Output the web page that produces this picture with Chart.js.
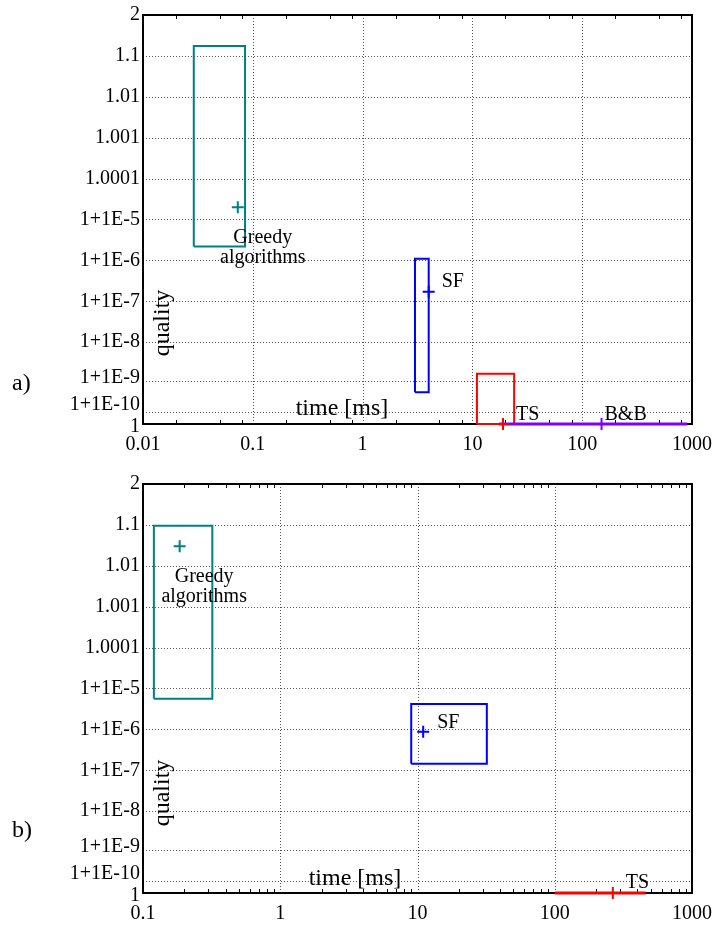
<!DOCTYPE html>
<html>
<head>
<meta charset="utf-8">
<script src="https://cdn.jsdelivr.net/npm/chart.js@4/dist/chart.umd.min.js"></script>
<style>
  html, body { margin: 0; padding: 0; background: #fff; overflow: hidden; }
  #chartA { position: absolute; left: 0; top: 0; }
  #chartB { position: absolute; left: 0; top: 469px; }
</style>
</head>
<body>
<canvas id="chartA" width="716" height="463"></canvas>
<canvas id="chartB" width="716" height="457"></canvas>
<script>
// Quality axis: tick labels and the quality-1 gap each one stands for
const qualityTickLabels = ['1', '1+1E-10', '1+1E-9', '1+1E-8', '1+1E-7', '1+1E-6', '1+1E-5', '1.0001', '1.001', '1.01', '1.1', '2'];
const qualityTickGaps = [0, 1e-10, 1e-9, 1e-8, 1e-7, 1e-6, 1e-5, 1e-4, 1e-3, 1e-2, 1e-1, 1];

// Time axis decades [ms]
const timeTicksA = [0.01, 0.1, 1, 10, 100, 1000];
const timeTicksB = [0.1, 1, 10, 100, 1000];

// Panel a): time range, quality-1 range and mean of each method
const methodsA = [['Greedy', 'algorithms'], ['SF'], ['TS'], ['B&B']];
const timeMinA = [0.029, 3.0, 11, 17.5];
const timeMaxA = [0.085, 4.0, 24, 900];
const timeMeanA = [0.073, 4.0, 19, 150];
const gapMinA = [2.2e-6, 5e-10, 0, 0];
const gapMaxA = [0.175, 1.1e-6, 1.6e-9, 0];
const gapMeanA = [2e-5, 1.7e-7, 0, 0];

// Panel b)
const methodsB = [['Greedy', 'algorithms'], ['SF'], ['TS']];
const timeMinB = [0.12, 9, 100];
const timeMaxB = [0.32, 32, 460];
const timeMeanB = [0.185, 11, 265];
const gapMinB = [5.6e-6, 1.45e-7, 0];
const gapMaxB = [0.095, 4.2e-6, 0];
const gapMeanB = [0.03, 8.8e-7, 0];

// quality q is plotted as log10((q - 1) + 1e-10): 1 sits at -10, 2 at 0
const GAP_FLOOR = 1e-10;
const qPos = g => Math.log10(g + GAP_FLOOR);

const SERIF = "'Liberation Serif', 'Times New Roman', serif";
const COLORS = { 'Greedy': '#008080', 'SF': '#0000ff', 'TS': '#ff0000', 'B&B': '#8000ff' };

function decorPlugin(d) {
  return {
    id: 'decor',
    beforeDatasetsDraw(chart) {
      const { ctx, chartArea: a, scales: { x, y } } = chart;
      ctx.save();
      const seg = (x1, y1, x2, y2) => { ctx.beginPath(); ctx.moveTo(x1, y1); ctx.lineTo(x2, y2); ctx.stroke(); };

      // dotted grid
      ctx.strokeStyle = '#555';
      ctx.lineWidth = 1;
      ctx.setLineDash([1, 2]);
      qualityTickGaps.forEach(g => {
        if (g === 0 || g === 1) return;
        const py = Math.round(y.getPixelForValue(qPos(g))) + 0.5;
        seg(a.left, py, a.right, py);
      });
      d.timeTicks.slice(1, -1).forEach(t => {
        const px = Math.round(x.getPixelForValue(t)) + 0.5;
        seg(px, a.top, px, a.bottom);
      });
      ctx.setLineDash([]);

      // minor ticks on the time axis, bottom and top
      ctx.strokeStyle = '#000';
      for (let i = 0; i < d.timeTicks.length - 1; i++) {
        const dec = d.timeTicks[i];
        d.minor.forEach(m => {
          const px = Math.round(x.getPixelForValue(dec * m)) + 0.5;
          seg(px, a.bottom, px, a.bottom - 4);
          seg(px, a.top, px, a.top + 4);
        });
      }

      // frame
      ctx.lineWidth = 2;
      ctx.strokeRect(a.left, a.top, a.right - a.left, a.bottom - a.top);
      ctx.restore();
    },
    afterDraw(chart) {
      const { ctx, chartArea: a, scales: { x, y } } = chart;
      ctx.save();
      ctx.fillStyle = '#000';

      // quality tick labels
      ctx.font = '20px ' + SERIF;
      ctx.textAlign = 'right';
      ctx.textBaseline = 'middle';
      const nudge = [3, -7, -4];
      qualityTickLabels.forEach((lab, i) => {
        const py = y.getPixelForValue(qPos(qualityTickGaps[i])) + (nudge[i] || 0);
        ctx.fillText(lab, a.left - 3, py);
      });

      // method labels next to their mean markers
      ctx.textBaseline = 'alphabetic';
      d.methods.forEach((lines, i) => {
        const px = x.getPixelForValue(d.tMean[i]);
        const py = y.getPixelForValue(qPos(d.gMean[i]));
        const o = d.labelOffsets[i];
        ctx.textAlign = lines.length > 1 ? 'center' : 'left';
        lines.forEach((s, k) => ctx.fillText(s, px + o[0], py + o[1] + k * 20.5));
      });

      // axis titles inside the plot
      ctx.font = '24px ' + SERIF;
      ctx.textAlign = 'center';
      ctx.fillText('time [ms]', a.left + d.timeTitle[0], a.bottom - d.timeTitle[1]);
      ctx.save();
      ctx.translate(163, d.qualityTitleY);
      ctx.rotate(-Math.PI / 2);
      ctx.textBaseline = 'middle';
      ctx.fillText('quality', 0, 0);
      ctx.restore();

      // panel letter
      ctx.textAlign = 'left';
      ctx.textBaseline = 'alphabetic';
      ctx.fillText(d.letter, 12, d.letterY);
      ctx.restore();
    }
  };
}

function buildChart(id, d) {
  const datasets = [];
  d.methods.forEach((lines, i) => {
    const col = COLORS[lines[0]];
    const flat = d.gMin[i] === d.gMax[i];
    const corners = [
      [d.tMin[i], d.gMin[i]], [d.tMax[i], d.gMin[i]], [d.tMax[i], d.gMax[i]],
      [d.tMin[i], d.gMax[i]], [d.tMin[i], d.gMin[i]]
    ];
    datasets.push({
      label: lines.join(' ') + ' range',
      data: corners.map(([t, g]) => ({ x: t, y: qPos(g) })),
      showLine: true, fill: false, tension: 0,
      borderColor: col, backgroundColor: col,
      borderWidth: flat ? 3 : 2, borderJoinStyle: 'miter',
      pointRadius: 0, pointHoverRadius: 0,
      clip: false, order: 20 - i
    });
    datasets.push({
      label: lines.join(' ') + ' mean',
      data: [{ x: d.tMean[i], y: qPos(d.gMean[i]) }],
      showLine: false,
      pointStyle: 'cross', pointRadius: 6, pointHoverRadius: 6,
      borderColor: col, backgroundColor: col, borderWidth: 2,
      clip: false, order: 0
    });
  });

  return new Chart(document.getElementById(id), {
    type: 'scatter',
    data: { datasets },
    options: {
      responsive: false,
      animation: false,
      layout: { padding: { top: 15, right: 24, bottom: 0, left: 0 } },
      plugins: { legend: { display: false }, tooltip: { enabled: false } },
      events: [],
      scales: {
        x: {
          type: 'logarithmic',
          min: d.timeTicks[0],
          max: d.timeTicks[d.timeTicks.length - 1],
          grid: { display: false, drawTicks: false },
          border: { display: false },
          afterBuildTicks: s => { s.ticks = d.timeTicks.map(v => ({ value: v })); },
          afterFit: s => { s.height = d.xAxisHeight; s.paddingLeft = 0; s.paddingRight = 0; },
          ticks: {
            autoSkip: false, maxRotation: 0, minRotation: 0, padding: 9,
            color: '#000', font: { family: SERIF, size: 20 },
            callback: v => String(v)
          }
        },
        y: {
          type: 'linear', min: -10, max: 0,
          grid: { display: false, drawTicks: false },
          border: { display: false },
          ticks: { display: false },
          afterFit: s => { s.width = 143; s.paddingTop = 0; s.paddingBottom = 0; }
        }
      }
    },
    plugins: [decorPlugin(d)]
  });
}

buildChart('chartA', {
  methods: methodsA, tMin: timeMinA, tMax: timeMaxA, tMean: timeMeanA,
  gMin: gapMinA, gMax: gapMaxA, gMean: gapMeanA,
  timeTicks: timeTicksA, minor: [2, 5, 8], xAxisHeight: 39,
  labelOffsets: [[25, 35.5], [13, -5], [13, -4], [3, -4]],
  timeTitle: [199, 9], qualityTitleY: 323, letter: 'a)', letterY: 390
});

buildChart('chartB', {
  methods: methodsB, tMin: timeMinB, tMax: timeMaxB, tMean: timeMeanB,
  gMin: gapMinB, gMax: gapMaxB, gMean: gapMeanB,
  timeTicks: timeTicksB, minor: [2, 3, 4, 5, 6, 7, 8, 9], xAxisHeight: 33,
  labelOffsets: [[24.5, 35.7], [14, -3.5], [13, -5]],
  timeTitle: [212, 8], qualityTitleY: 324, letter: 'b)', letterY: 368
});
</script>
</body>
</html>
